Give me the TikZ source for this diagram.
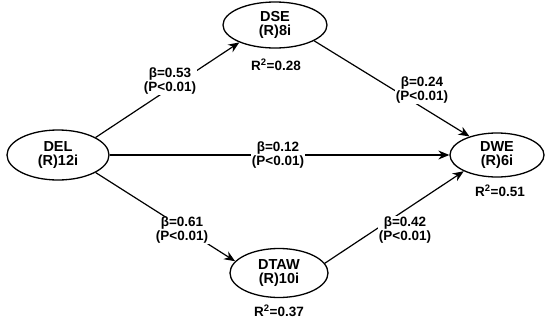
\documentclass[tikz,border=0pt]{standalone}
\usepackage{fontspec}
\setmainfont{Liberation Sans}
\usetikzlibrary{arrows.meta,shapes.geometric}
\begin{document}
\begin{tikzpicture}[x=1pt,y=-1pt,
  latent/.style={ellipse,draw,line width=1.3pt,inner sep=0pt,align=center,
    font=\fontsize{14.5}{13.5}\selectfont\bfseries},
  coef/.style={fill=white,inner sep=0.6pt,align=center,
    font=\fontsize{13.5}{14}\selectfont\bfseries},
  rsq/.style={inner sep=0pt,font=\fontsize{13.5}{14}\selectfont\bfseries},
  conn/.style={line width=1.2pt,-{Stealth[length=11pt,width=9pt]}}]
\useasboundingbox (0,0) rectangle (550,322);
\node[latent,minimum width=102pt,minimum height=50pt] (DEL) at (58,155) {DEL\\(R)12i};
\node[latent,minimum width=104pt,minimum height=46pt] (DSE) at (275,25) {DSE\\(R)8i};
\node[latent,minimum width=94pt,minimum height=44pt] (DWE) at (497,155) {DWE\\(R)6i};
\node[latent,minimum width=98pt,minimum height=49pt] (DTAW) at (279,273) {DTAW\\(R)10i};
\draw[conn] (DEL.25) -- (DSE.206);
\draw[conn] (DSE.338) -- (DWE.146);
\draw[conn] (DEL.east) -- (DWE.west);
\draw[conn] (DEL.335) -- (DTAW.165);
\draw[conn] (DTAW.12) -- (DWE.206);
\node[coef] (c1) at (170,81) {β=0.53\\(P<0.01)};
\node[coef] (c2) at (422,90.5) {β=0.24\\(P<0.01)};
\node[coef] (c3) at (278,155.5) {β=0.12\\(P<0.01)};
\node[coef] (c4) at (182,230.5) {β=0.61\\(P<0.01)};
\node[coef] (c5) at (405,230) {β=0.42\\(P<0.01)};
\node[rsq] (r1) at (276,65) {R\textsuperscript{2}=0.28};
\node[rsq] (r2) at (500,191) {R\textsuperscript{2}=0.51};
\node[rsq] (r3) at (279,311) {R\textsuperscript{2}=0.37};
\end{tikzpicture}
\end{document}
